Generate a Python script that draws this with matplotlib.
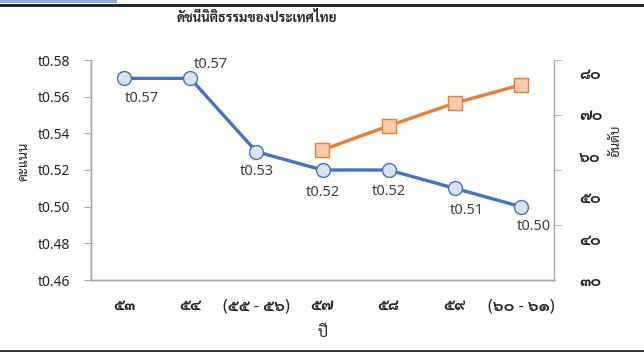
import numpy as np
import matplotlib
matplotlib.use("Agg")
import matplotlib.pyplot as plt
from matplotlib.lines import Line2D
from matplotlib.patches import Rectangle

THAI = ["Noto Sans", "Sarabun"]
plt.rcParams["font.family"] = THAI

years = ["๕๓", "๕๔", "(๕๕ - ๕๖)", "๕๗", "๕๘", "๕๙", "(๖๐ - ๖๑)"]
scores = [0.57, 0.57, 0.53, 0.52, 0.52, 0.51, 0.50]
score_labels = ["t0.57", "t0.57", "t0.53", "t0.52", "t0.52", "t0.51", "t0.50"]
ranks = [np.nan, np.nan, np.nan, 61.4, 67.2, 72.7, 77.1]

left_ticks = [0.46, 0.48, 0.50, 0.52, 0.54, 0.56, 0.58]
left_ticklabels = ["t0.46", "t0.48", "t0.50", "t0.52", "t0.54", "t0.56", "t0.58"]
right_ticks = [30, 40, 50, 60, 70, 80]
right_ticklabels = ["๓๐", "๔๐", "๕๐", "๖๐", "๗๐", "๘๐"]

# label offsets in pixels for each score point
label_off = [(18, -20), (21, 14), (0, -20), (0, -23), (0, -22), (12, -22), (13, -20)]

blue, blue_face = "#4472C4", "#DAE3F3"
orange, orange_face = "#ED7D31", "#F8CBAD"
spine_c = "#A6A6A6"
txt_c = "#404040"

fig = plt.figure(figsize=(6.44, 3.52), dpi=100)
ax = fig.add_axes([91 / 644, 1 - 280 / 352, 463 / 644, 220 / 352])
ax2 = ax.twinx()

x = np.arange(len(years))
ax.plot(x, scores, color=blue, lw=2.4, marker="o", ms=10,
        mfc=blue_face, mec=blue, mew=1.0, zorder=3)
ax2.plot(x, ranks, color=orange, lw=2.4, marker="s", ms=10,
         mfc=orange_face, mec=orange, mew=1.0, zorder=3)

for xi, yi, lab, off in zip(x, scores, score_labels, label_off):
    ax.annotate(lab, (xi, yi), xytext=off, textcoords="offset pixels",
                ha="center", va="center", fontsize=10.5, color=txt_c)

ax.set_xlim(-0.5, len(years) - 0.5)
ax.set_ylim(0.46, 0.58)
ax.set_yticks(left_ticks)
ax.set_yticklabels(left_ticklabels, fontsize=10, color="#262626")
ax.set_xticks(x)
ax.set_xticklabels(years, fontsize=11.5, fontweight="bold", color="#262626")
ax.tick_params(axis="x", length=0, pad=13)
ax.tick_params(axis="y", length=5, pad=10, color=spine_c)

ax2.set_ylim(30, 83.1)
ax2.set_yticks(right_ticks)
ax2.set_yticklabels(right_ticklabels, fontsize=11.5, fontweight="bold", color="#262626")
ax2.set_yticks(np.linspace(30, 83.1, 5), minor=True)
ax2.tick_params(axis="y", which="major", length=0, pad=18)
ax2.tick_params(axis="y", which="minor", length=5, color=spine_c)

for a in (ax, ax2):
    a.spines["top"].set_visible(False)
    for s in ("left", "right", "bottom"):
        a.spines[s].set_color(spine_c)
        a.spines[s].set_linewidth(1.0)
ax.spines["right"].set_visible(False)

ax.set_xlabel("ปี", fontsize=11, color="#262626")
ax.xaxis.set_label_coords(0.5, -0.21)
ax.set_ylabel("คะแนน", fontsize=9.5, color="#262626")
ax.yaxis.set_label_coords(-0.13, 0.54)
ax2.set_ylabel("อันดับ", fontsize=9.5, color="#262626", rotation=90)
ax2.yaxis.set_label_coords(1.12, 0.632)

fig.text(257 / 644, 1 - 18 / 352, "ดัชนีนิติธรรมของประเทศไทย",
         ha="center", va="center", fontsize=9.5, fontweight="bold", color="#262626")

# frame lines at the top and bottom edges
fig.add_artist(Rectangle((0, 1 - 2.5 / 352), 117 / 644, 2.5 / 352,
                         transform=fig.transFigure, color="#8EA9DB", lw=0))
fig.add_artist(Line2D([0, 1], [1 - 5.3 / 352] * 2, transform=fig.transFigure,
                      color="#1a1a1a", lw=2.0))
fig.add_artist(Line2D([0, 1], [1.5 / 352] * 2, transform=fig.transFigure,
                      color="#333333", lw=2.0))

fig.savefig("out.png", dpi=100)
